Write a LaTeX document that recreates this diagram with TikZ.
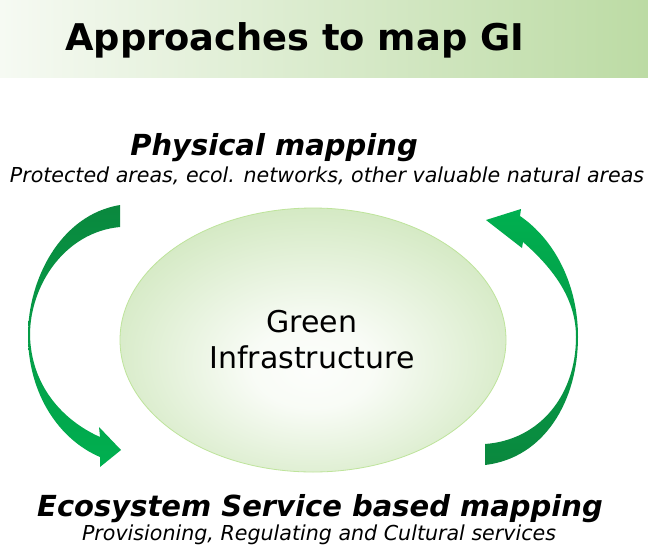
\documentclass[tikz,border=0pt]{standalone}
\usepackage{fontspec}
\setmainfont{DejaVu Sans}
\usetikzlibrary{shadings}
\definecolor{hdrL}{RGB}{246,250,243}
\definecolor{hdrR}{RGB}{188,219,164}
\definecolor{giedge}{RGB}{188,221,162}
\definecolor{giborder}{RGB}{190,228,155}
\definecolor{arrdark}{RGB}{10,136,62}
\definecolor{arrlight}{RGB}{0,176,80}
\pgfdeclareradialshading{gishade}{\pgfpoint{0bp}{-6bp}}{color(0bp)=(white!96!giedge); color(8bp)=(white!90!giedge); color(32bp)=(giedge!75!white); color(50bp)=(giedge)}
\tikzset{
  title/.style={font=\fontsize{36.8}{40}\selectfont\bfseries, anchor=base west, inner sep=0pt},
  head/.style={font=\fontsize{29}{32}\selectfont\bfseries\itshape, anchor=base, inner sep=0pt},
  sub/.style={font=\fontsize{20.6}{22}\selectfont\itshape, anchor=base, inner sep=0pt},
  gitext/.style={font=\fontsize{30}{36}\selectfont, align=center, inner sep=0pt},
}
\begin{document}
\begin{tikzpicture}[x=1pt,y=-1pt]
\useasboundingbox[fill=white] (0,0) rectangle (648,544);
% header band
\shade[left color=hdrL, right color=hdrR] (0,0) rectangle (648,77);
\node[title] (t) at (65,50) {Approaches to map GI};
% top labels
\node[head] (phys) at (274,155) {Physical mapping};
\node[sub] (physsub) at (327,182) {Protected areas, ecol. networks, other valuable natural areas};
% ellipse
\shade[shading=gishade, draw=giborder, line width=0.8pt] (313,340) ellipse [x radius=193, y radius=132];
\node[gitext] (gi) at (312,340) {Green\\Infrastructure};
% left arrow
\shade[top color=arrdark, bottom color=arrlight]
  (120,205) .. controls (60,215) and (28,280) .. (28,335)
  .. controls (28,395) and (60,440) .. (100,457)
  -- (100,467) -- (121,450) -- (99,427) -- (100,437)
  .. controls (62,420) and (31,385) .. (30,335)
  .. controls (30,285) and (65,232) .. (120,227) -- cycle;
% right arrow
\shade[top color=arrlight, bottom color=arrdark]
  (485,465) .. controls (545,458) and (578,400) .. (578,337)
  .. controls (578,285) and (555,240) .. (520,216)
  -- (521,209) -- (486,220) -- (522,248) -- (523,242)
  .. controls (555,270) and (576,300) .. (576,337)
  .. controls (576,395) and (540,440) .. (485,444) -- cycle;
% bottom labels
\node[head, font=\fontsize{29}{32}\selectfont\bfseries\itshape] (eco) at (320,516) {Ecosystem Service based mapping};
\node[sub] (ecosub) at (319,540) {Provisioning, Regulating and Cultural services};
\end{tikzpicture}
\end{document}
